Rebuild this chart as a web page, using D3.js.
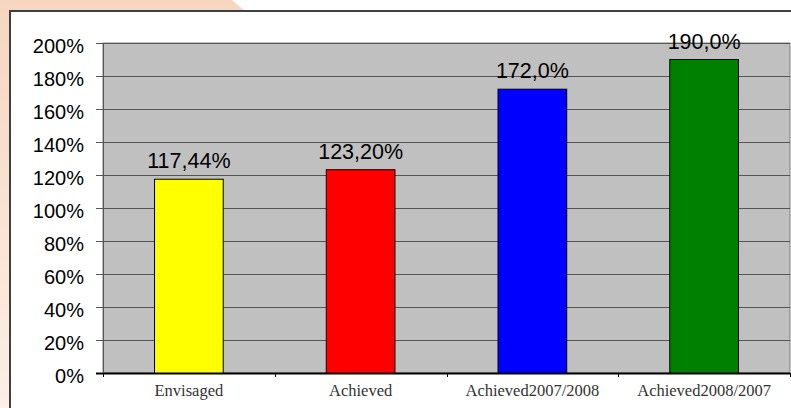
<!DOCTYPE html>
<html>
<head>
<meta charset="utf-8">
<script src="https://cdn.jsdelivr.net/npm/d3@7"></script>
<style>
  html, body { margin: 0; padding: 0; background: #fff; overflow: hidden; }
  svg { display: block; }
</style>
</head>
<body>
<script>
// data
var categories = ['Envisaged', 'Achieved', 'Achieved2007/2008', 'Achieved2008/2007'];
var values = [117.44, 123.20, 172.0, 190.0];
var valueLabels = ['117,44%', '123,20%', '172,0%', '190,0%'];
var barColors = ['#ffff00', '#ff0000', '#0000ff', '#008000'];
var yTicks = [0, 20, 40, 60, 80, 100, 120, 140, 160, 180, 200];

var W = 791, H = 408;
var plot = { left: 103, right: 790, top: 43, bottom: 373 };

var svg = d3.select('body').append('svg')
  .attr('width', W)
  .attr('height', H);

// peach backdrop in the corner
var grad = svg.append('defs').append('linearGradient')
  .attr('id', 'peach')
  .attr('x1', 0).attr('y1', 0).attr('x2', 0).attr('y2', 1);
grad.append('stop').attr('offset', '0%').attr('stop-color', '#f6d6bf');
grad.append('stop').attr('offset', '100%').attr('stop-color', '#fcefe6');

svg.append('path')
  .attr('d', 'M0,0 L232,0 L246,12 L246,408 L0,408 Z')
  .attr('fill', 'url(#peach)');

// chart box
svg.append('rect')
  .attr('x', 10).attr('y', 11)
  .attr('width', 800).attr('height', 420)
  .attr('fill', '#fff')
  .attr('stroke', '#404040')
  .attr('stroke-width', 2);

var x = d3.scaleBand()
  .domain(categories)
  .range([plot.left, plot.right])
  .paddingInner(0.6)
  .paddingOuter(0.3);

var y = d3.scaleLinear()
  .domain([0, 200])
  .range([plot.bottom, plot.top]);

// plot area
svg.append('rect')
  .attr('x', plot.left).attr('y', plot.top)
  .attr('width', plot.right - plot.left)
  .attr('height', plot.bottom - plot.top)
  .attr('fill', '#c0c0c0')
  .attr('stroke', '#808080')
  .attr('stroke-width', 1);

// gridlines
svg.append('g')
  .selectAll('line')
  .data(yTicks)
  .enter().append('line')
    .attr('x1', plot.left - 7)
    .attr('x2', plot.right)
    .attr('y1', function(d) { return Math.round(y(d)) + 0.5; })
    .attr('y2', function(d) { return Math.round(y(d)) + 0.5; })
    .attr('stroke', function(d) { return d === 0 ? '#000' : '#555'; })
    .attr('stroke-width', function(d) { return d === 0 ? 2 : 1; });

// y axis line
svg.append('line')
  .attr('x1', plot.left + 0.5).attr('x2', plot.left + 0.5)
  .attr('y1', plot.top).attr('y2', plot.bottom)
  .attr('stroke', '#555');

// y labels
svg.append('g')
  .selectAll('text')
  .data(yTicks)
  .enter().append('text')
    .attr('x', 84)
    .attr('y', function(d) { return y(d) + 9.5; })
    .attr('text-anchor', 'end')
    .attr('font-family', 'Liberation Sans, Arial, sans-serif')
    .attr('font-size', 20)
    .attr('fill', '#000')
    .text(function(d) { return d + '%'; });

// bars
svg.append('g')
  .selectAll('rect')
  .data(values)
  .enter().append('rect')
    .attr('x', function(d, i) { return x(categories[i]); })
    .attr('y', function(d) { return y(d); })
    .attr('width', x.bandwidth())
    .attr('height', function(d) { return plot.bottom - y(d); })
    .attr('fill', function(d, i) { return barColors[i]; })
    .attr('stroke', '#000')
    .attr('stroke-width', 1);

// value labels
svg.append('g')
  .selectAll('text')
  .data(values)
  .enter().append('text')
    .attr('x', function(d, i) { return x(categories[i]) + x.bandwidth() / 2; })
    .attr('y', function(d) { return y(d) - 11; })
    .attr('text-anchor', 'middle')
    .attr('font-family', 'Liberation Sans, Arial, sans-serif')
    .attr('font-size', 21.5)
    .attr('fill', '#000')
    .text(function(d, i) { return valueLabels[i]; });

// category tick marks
svg.append('g')
  .selectAll('line')
  .data(d3.range(categories.length + 1))
  .enter().append('line')
    .attr('x1', function(i) { return Math.round(plot.left + i * x.step()) + 0.5; })
    .attr('x2', function(i) { return Math.round(plot.left + i * x.step()) + 0.5; })
    .attr('y1', plot.bottom)
    .attr('y2', plot.bottom + 4)
    .attr('stroke', '#000');

// category labels
svg.append('g')
  .selectAll('text')
  .data(categories)
  .enter().append('text')
    .attr('x', function(d) { return x(d) + x.bandwidth() / 2; })
    .attr('y', plot.bottom + 23)
    .attr('text-anchor', 'middle')
    .attr('font-family', 'Liberation Serif, Times New Roman, serif')
    .attr('font-size', 16.5)
    .attr('fill', '#333')
    .text(function(d) { return d; });
</script>
</body>
</html>
